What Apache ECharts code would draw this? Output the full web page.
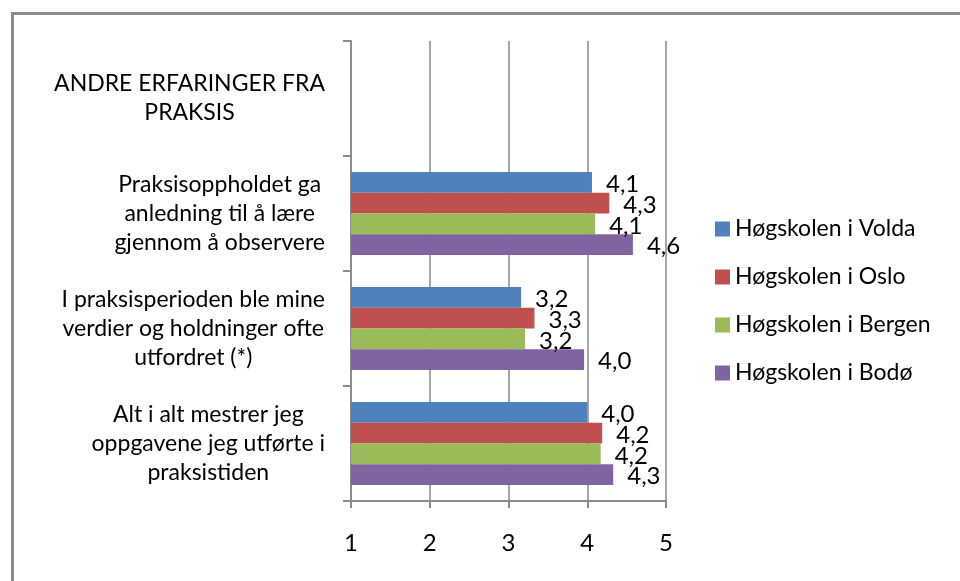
<!DOCTYPE html>
<html>
<head>
<meta charset="utf-8">
<script src="https://cdn.jsdelivr.net/npm/echarts@6/dist/echarts.min.js"></script>
<style>
html,body{margin:0;padding:0;background:#fff;}
#chart{width:960px;height:581px;}
</style>
</head>
<body>
<div id="chart"></div>
<script>
// Categories, listed top to bottom
const categories = [
  "ANDRE ERFARINGER FRA\nPRAKSIS",
  "Praksisoppholdet ga\nanledning til å lære\ngjennom å observere",
  "I praksisperioden ble mine\nverdier og holdninger ofte\nutfordret (*)",
  "Alt i alt mestrer jeg\noppgavene jeg utførte i\npraksistiden"
];
const seriesNames = ["Høgskolen i Volda", "Høgskolen i Oslo", "Høgskolen i Bergen", "Høgskolen i Bodø"];
const volda  = [null, 4.06, 3.16, 4.00];
const oslo   = [null, 4.28, 3.33, 4.19];
const bergen = [null, 4.10, 3.21, 4.17];
const bodo   = [null, 4.58, 3.96, 4.33];
const xTicks = [1, 2, 3, 4, 5];

const colors = ["#4F81BD", "#C0504D", "#9BBB59", "#8064A2"];
const FONT = "Lato";
const FS = 23;
const LFS = 24;

const seriesData = [volda, oslo, bergen, bodo];

const chart = echarts.init(document.getElementById('chart'), null, {renderer: 'canvas'});
chart.setOption({
  animation: false,
  backgroundColor: '#ffffff',
  color: colors,
  textStyle: {fontFamily: FONT},
  graphic: [{
    type: 'rect', left: 10, top: 11, silent: true,
    shape: {x: 0, y: 0, width: 1000, height: 1000},
    style: {fill: 'none', stroke: '#8c8c8c', lineWidth: 3}
  }],
  grid: {left: 351, right: 294, top: 41, bottom: 80, containLabel: false},
  legend: {
    orient: 'vertical', left: 710, top: 210,
    icon: 'rect', itemWidth: 15, itemHeight: 15, itemGap: 20,
    data: seriesNames,
    textStyle: {fontFamily: FONT, fontSize: FS, color: '#000', lineHeight: 28}
  },
  xAxis: {
    type: 'value', min: xTicks[0], max: xTicks[xTicks.length - 1], interval: 1,
    axisLine: {show: true, lineStyle: {color: '#8c8c8c', width: 2}},
    axisTick: {show: true, length: 7, lineStyle: {color: '#8c8c8c', width: 2}},
    splitLine: {show: true, lineStyle: {color: '#a6a6a6', width: 2}},
    axisLabel: {margin: 30, fontFamily: FONT, fontSize: LFS, color: '#000'}
  },
  yAxis: {
    type: 'category', inverse: true, data: categories,
    axisLine: {show: true, lineStyle: {color: '#8c8c8c', width: 2}},
    axisTick: {show: true, length: 8, lineStyle: {color: '#8c8c8c', width: 2}},
    splitLine: {show: false},
    axisLabel: {
      margin: 26, align: 'right', fontFamily: FONT, fontSize: FS, color: '#000', lineHeight: 29,
      formatter: v => v.split('\n').map(s => '{c|' + s + '}').join('\n'),
      rich: {c: {align: 'center', fontFamily: FONT, fontSize: FS, color: '#000', lineHeight: 29}}
    }
  },
  series: seriesNames.map((name, i) => ({
    name: name, type: 'bar', data: seriesData[i],
    barGap: '0%', barCategoryGap: '28%',
    itemStyle: {color: colors[i]},
    label: {
      show: true, position: 'right', distance: 14, offset: [0, 2],
      fontFamily: FONT, fontSize: LFS, color: '#000',
      formatter: p => (p.value == null ? '' : p.value.toFixed(1).replace('.', ','))
    }
  }))
});
</script>
</body>
</html>
